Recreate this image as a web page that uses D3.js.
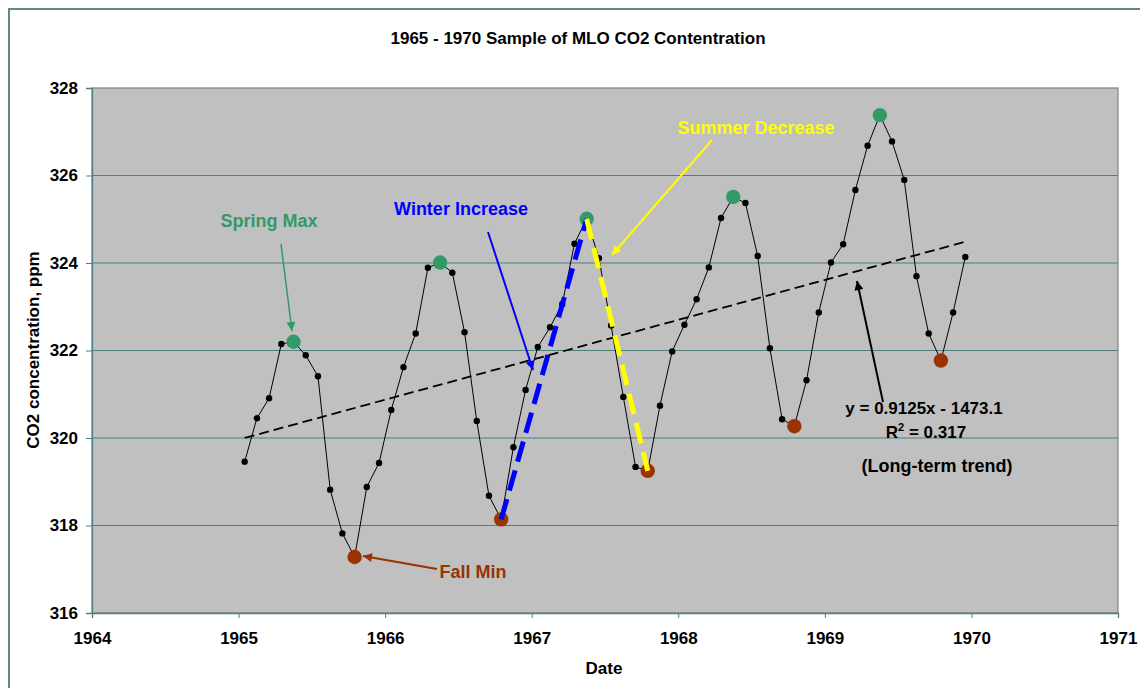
<!DOCTYPE html>
<html>
<head>
<meta charset="utf-8">
<script src="https://cdn.jsdelivr.net/npm/d3@7/dist/d3.min.js"></script>
<style>
  html, body { margin: 0; padding: 0; background: #fff; }
  svg { display: block; }
  text { font-family: "Liberation Sans", Arial, sans-serif; font-weight: bold; }
</style>
</head>
<body>
<svg id="chart" width="1140" height="688"></svg>
<script>
// ---------------- data ----------------
const years = [1965, 1966, 1967, 1968, 1969];
const monthNames = ["Jan","Feb","Mar","Apr","May","Jun","Jul","Aug","Sep","Oct","Nov","Dec"];
const co2_1965 = [319.46, 320.45, 320.91, 322.15, 322.20, 321.89, 321.41, 318.82, 317.82, 317.28, 318.88, 319.43];
const co2_1966 = [320.64, 321.62, 322.39, 323.89, 324.01, 323.78, 322.42, 320.39, 318.68, 318.14, 319.79, 321.10];
const co2_1967 = [322.08, 322.53, 323.06, 324.44, 325.01, 324.11, 322.57, 320.94, 319.34, 319.25, 320.74, 321.98];
const co2_1968 = [322.59, 323.17, 323.90, 325.03, 325.51, 325.37, 324.16, 322.05, 320.43, 320.27, 321.32, 322.87];
const co2_1969 = [324.01, 324.43, 325.67, 326.68, 327.38, 326.78, 325.90, 323.70, 322.39, 321.77, 322.87, 324.14];
const seriesByYear = [co2_1965, co2_1966, co2_1967, co2_1968, co2_1969];

const springMaxMonth = "May";   // green highlighted points
const fallMinMonth = "Oct";     // brown highlighted points

const xTicks = [1964, 1965, 1966, 1967, 1968, 1969, 1970, 1971];
const yTicks = [316, 318, 320, 322, 324, 326, 328];

const trendSlope = 0.9125;
const trendIntercept = -1473.1;

const titleText = "1965 - 1970 Sample of MLO CO2 Contentration";
const xTitle = "Date";
const yTitle = "CO2 concentration, ppm";

// ---------------- build points ----------------
const points = [];
years.forEach((yr, i) => {
  seriesByYear[i].forEach((v, m) => {
    points.push({ date: yr + (m + 0.5) / 12, value: v, month: monthNames[m], year: yr });
  });
});
const springPts = points.filter(p => p.month === springMaxMonth);
const fallPts = points.filter(p => p.month === fallMinMonth);

// ---------------- layout ----------------
const svg = d3.select("#chart");
const plot = { left: 92, right: 1118, top: 88, bottom: 613 };
const x = d3.scaleLinear().domain([1964, 1971]).range([plot.left, plot.right]);
const y = d3.scaleLinear().domain([316, 328]).range([plot.bottom, plot.top]);

const axisColor = "#4F7F80";
const greenC = "#339966";
const brownC = "#993300";

// outer frame
svg.append("rect").attr("x", 9).attr("y", 9).attr("width", 1160).attr("height", 700)
  .attr("fill", "none").attr("stroke", "#5F8A8B").attr("stroke-width", 2);

// plot background
svg.append("rect").attr("x", plot.left).attr("y", plot.top)
  .attr("width", plot.right - plot.left).attr("height", plot.bottom - plot.top)
  .attr("fill", "#C0C0C0").attr("stroke", "#808080").attr("stroke-width", 1.2);

// gridlines
svg.append("g").selectAll("line").data(yTicks.filter(t => t > 316 && t < 328)).join("line")
  .attr("x1", plot.left).attr("x2", plot.right)
  .attr("y1", d => y(d)).attr("y2", d => y(d))
  .attr("stroke", axisColor).attr("stroke-width", 1);

// axes
const xAxis = d3.axisBottom(x).tickValues(xTicks).tickFormat(d3.format("d")).tickSizeOuter(0).tickSize(5).tickPadding(14);
const yAxis = d3.axisLeft(y).tickValues(yTicks).tickFormat(d3.format("d")).tickSizeOuter(0).tickSize(6).tickPadding(8);

const gx = svg.append("g").attr("transform", `translate(0,${plot.bottom})`).call(xAxis);
const gy = svg.append("g").attr("transform", `translate(${plot.left},0)`).call(yAxis);
[gx, gy].forEach(g => {
  g.select(".domain").attr("stroke", axisColor).attr("stroke-width", 1.3);
  g.selectAll(".tick line").attr("stroke", axisColor).attr("stroke-width", 1);
  g.selectAll(".tick text").attr("fill", "#000").attr("font-size", 17).attr("font-weight", "bold")
    .attr("font-family", "'Liberation Sans', Arial, sans-serif");
});

// titles
svg.append("text").attr("x", 578).attr("y", 44).attr("text-anchor", "middle")
  .attr("font-size", 17).text(titleText);
svg.append("text").attr("x", 604).attr("y", 674).attr("text-anchor", "middle")
  .attr("font-size", 17).text(xTitle);
svg.append("text").attr("transform", "translate(39,350) rotate(-90)").attr("text-anchor", "middle")
  .attr("font-size", 17).text(yTitle);

// data line
const line = d3.line().x(d => x(d.date)).y(d => y(d.value));
svg.append("path").datum(points).attr("d", line)
  .attr("fill", "none").attr("stroke", "#000").attr("stroke-width", 1);

// trend line
const first = points[0].date, last = points[points.length - 1].date;
const trendPts = [first, last].map(t => ({ date: t, value: trendSlope * t + trendIntercept }));
svg.append("path").datum(trendPts).attr("d", line)
  .attr("fill", "none").attr("stroke", "#000").attr("stroke-width", 1.8)
  .attr("stroke-dasharray", "10,5");

// small markers
svg.append("g").selectAll("circle").data(points).join("circle")
  .attr("cx", d => x(d.date)).attr("cy", d => y(d.value)).attr("r", 3.2).attr("fill", "#000");

// highlighted markers
svg.append("g").selectAll("circle").data(springPts).join("circle")
  .attr("cx", d => x(d.date)).attr("cy", d => y(d.value)).attr("r", 7.2).attr("fill", greenC);
svg.append("g").selectAll("circle").data(fallPts).join("circle")
  .attr("cx", d => x(d.date)).attr("cy", d => y(d.value)).attr("r", 7.2).attr("fill", brownC);

// winter increase / summer decrease segments (Oct 1966 -> May 1967 -> Oct 1967)
const oct66 = fallPts.find(p => p.year === 1966);
const may67 = springPts.find(p => p.year === 1967);
const oct67 = fallPts.find(p => p.year === 1967);
svg.append("path").datum([oct66, may67]).attr("d", line)
  .attr("fill", "none").attr("stroke", "#0000FF").attr("stroke-width", 5).attr("stroke-dasharray", "21,9");
svg.append("path").datum([may67, oct67]).attr("d", line)
  .attr("fill", "none").attr("stroke", "#FFFF00").attr("stroke-width", 5).attr("stroke-dasharray", "21,9");

// arrow markers
const defs = svg.append("defs");
function arrowMarker(id, color) {
  defs.append("marker").attr("id", id).attr("viewBox", "0 0 10 10")
    .attr("refX", 10).attr("refY", 5).attr("markerUnits", "userSpaceOnUse")
    .attr("markerWidth", 11).attr("markerHeight", 9).attr("orient", "auto")
    .append("path").attr("d", "M0,0 L10,5 L0,10 Z").attr("fill", color);
}
arrowMarker("arG", greenC);
arrowMarker("arB", "#0000FF");
arrowMarker("arY", "#FFFF00");
arrowMarker("arR", brownC);
arrowMarker("arK", "#000");

function arrow(x1, y1, x2, y2, color, id, w) {
  svg.append("line").attr("x1", x1).attr("y1", y1).attr("x2", x2).attr("y2", y2)
    .attr("stroke", color).attr("stroke-width", w).attr("marker-end", `url(#${id})`);
}
arrow(281, 244, 292, 331, greenC, "arG", 1.5);
arrow(437, 569, 363, 556, brownC, "arR", 2);
arrow(488, 232, 533, 370, "#0000FF", "arB", 2);
arrow(712, 140, 612, 255, "#FFFF00", "arY", 2);
arrow(883, 402, 857, 281, "#000", "arK", 2);

// annotation texts
function label(tx, ty, txt, color, size) {
  return svg.append("text").attr("x", tx).attr("y", ty).attr("text-anchor", "middle")
    .attr("font-size", size).attr("fill", color).text(txt);
}
label(269, 227, "Spring Max", greenC, 18);
label(461, 215, "Winter Increase", "#0000FF", 18);
label(756, 134, "Summer Decrease", "#FFFF00", 18);
label(473, 578, "Fall Min", brownC, 18);
label(924, 414, "y = 0.9125x - 1473.1", "#000", 17);
const r2 = svg.append("text").attr("x", 926).attr("y", 438).attr("text-anchor", "middle")
  .attr("font-size", 17).attr("fill", "#000");
r2.append("tspan").text("R");
r2.append("tspan").attr("dy", -7).attr("font-size", 11).text("2");
r2.append("tspan").attr("dy", 7).text(" = 0.317");
label(937, 472, "(Long-term trend)", "#000", 18);
</script>
</body>
</html>
